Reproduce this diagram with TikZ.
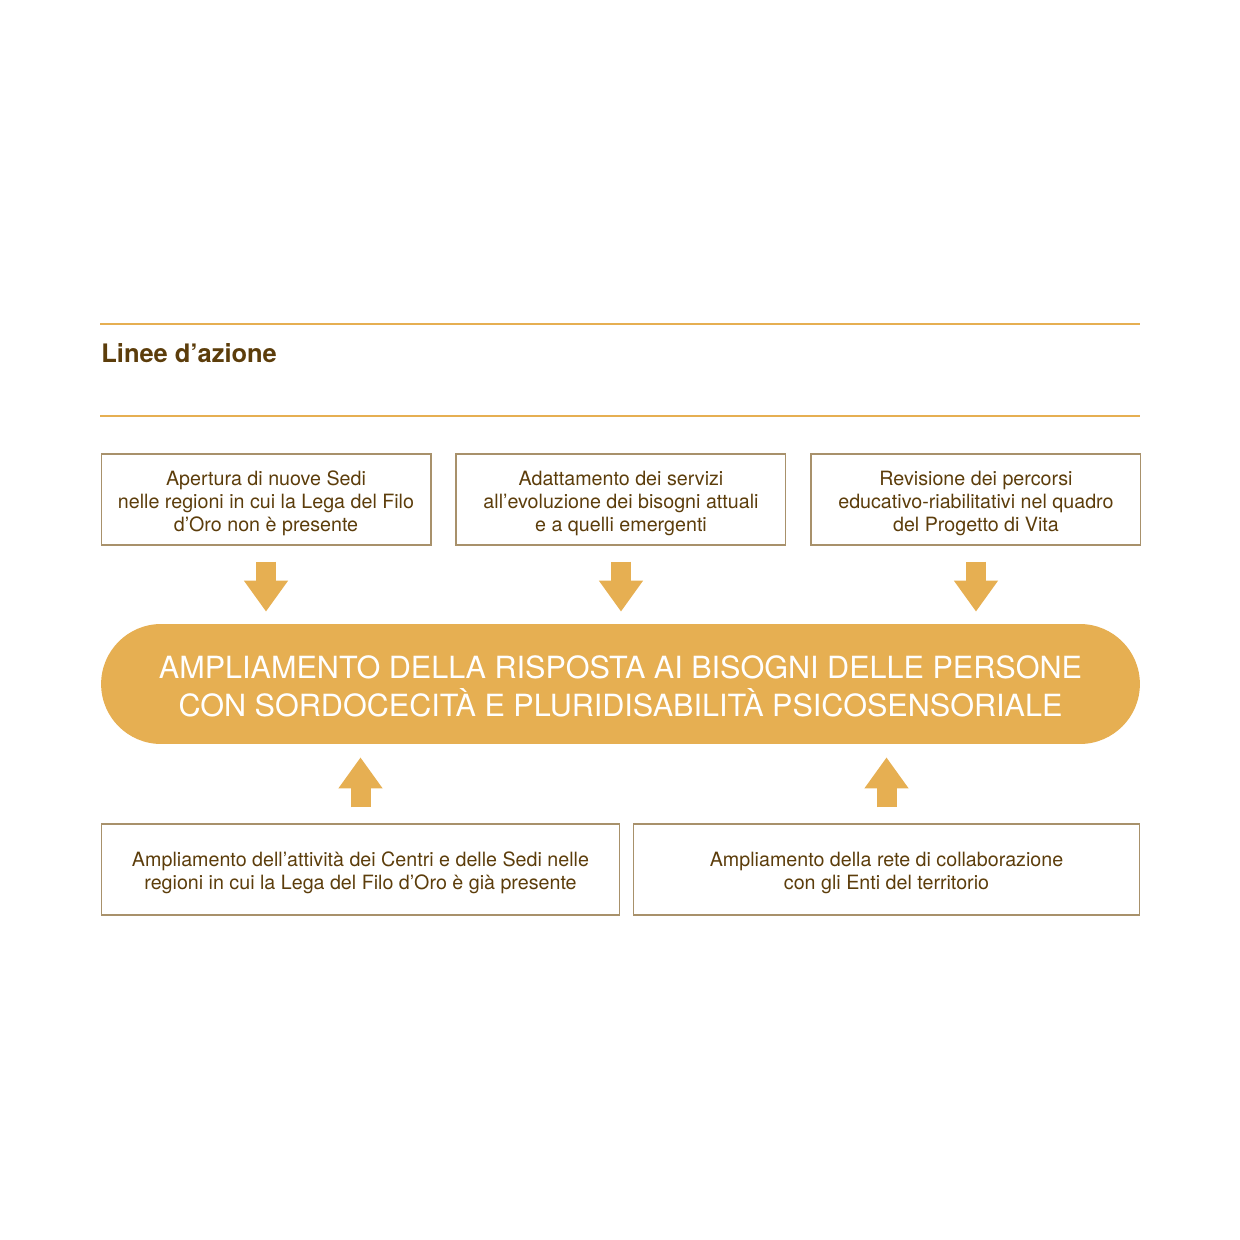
\documentclass[tikz,border=0pt]{standalone}
\usepackage{fontspec}
\setmainfont{TeX Gyre Heros}
\usepackage{tikz}
\usetikzlibrary{positioning,arrows.meta}

\definecolor{oro}{HTML}{E6AF52}
\definecolor{bruno}{HTML}{5C3D0B}
\definecolor{cornice}{HTML}{A8916B}

% abbassa di poco il testo nei riquadri
\newcommand{\alto}[1]{\rule{0pt}{#1}}

\begin{document}
\begin{tikzpicture}[
  x=0.02cm, y=-0.02cm,
  font=\fontsize{11.2}{13.1}\selectfont,
  linea/.style={draw=oro, line width=1.1pt},
  box/.style={draw=cornice, line width=0.6pt, minimum height=1.82cm,
              align=center, text=bruno, inner sep=0pt},
  tbox/.style={box, minimum width=6.6cm},
  pill/.style={fill=oro, rounded corners=1.2cm, minimum width=20.78cm,
               minimum height=2.4cm, text=white, align=center,
               font=\fontsize{17.4}{21.6}\selectfont},
  freccia/.style={oro, line width=0.4cm, -{Triangle[width=0.84cm,length=0.62cm]}},
]
\useasboundingbox (0,0) rectangle (1240,1240);

% ── intestazione ──
\draw[linea] (100,324) -- (1140,324);
\node[anchor=base west, inner sep=0pt, text=bruno,
      font=\bfseries\fontsize{14.5}{17}\selectfont] (titolo) at (101,362) {Linee d’azione};
\draw[linea] (100,416) -- (1140,416);

% ── linee d'azione in alto ──
\node[tbox] (sedi) at (266,499.5)
  {\alto{12.5pt}Apertura di nuove Sedi\\nelle regioni in cui la Lega del Filo\\d’Oro non è presente};
\node[tbox, right=0.48cm of sedi] (servizi)
  {\alto{12.5pt}Adattamento dei servizi\\all’evoluzione dei bisogni attuali\\e a quelli emergenti};
\node[tbox, right=0.48cm of servizi] (percorsi)
  {\alto{12.5pt}Revisione dei percorsi\\educativo-riabilitativi nel quadro\\del Progetto di Vita};

% ── obiettivo ──
\node[pill] (obiettivo) at (620.5,684)
  {\alto{15.5pt}AMPLIAMENTO DELLA RISPOSTA AI BISOGNI DELLE PERSONE\\CON SORDOCECITÀ E PLURIDISABILITÀ PSICOSENSORIALE};

% ── linee d'azione in basso ──
\node[box, minimum width=10.38cm] (centri) at (360.5,869.5)
  {\alto{12.5pt}Ampliamento dell’attività dei Centri e delle Sedi nelle\\regioni in cui la Lega del Filo d’Oro è già presente};
\node[box, minimum width=10.14cm] (rete) at (886.5,869.5)
  {\alto{12.5pt}Ampliamento della rete di collaborazione\\con gli Enti del territorio\rule[-2.3pt]{0pt}{0pt}};

% ── frecce ──
\foreach \n in {sedi,servizi,percorsi}
  \draw[freccia, shorten <=0.32cm, shorten >=0.24cm] (\n.south) -- (\n.south |- obiettivo.north);
\foreach \n in {centri,rete}
  \draw[freccia, shorten <=0.32cm, shorten >=0.26cm] (\n.north) -- (\n.north |- obiettivo.south);

\end{tikzpicture}
\end{document}
